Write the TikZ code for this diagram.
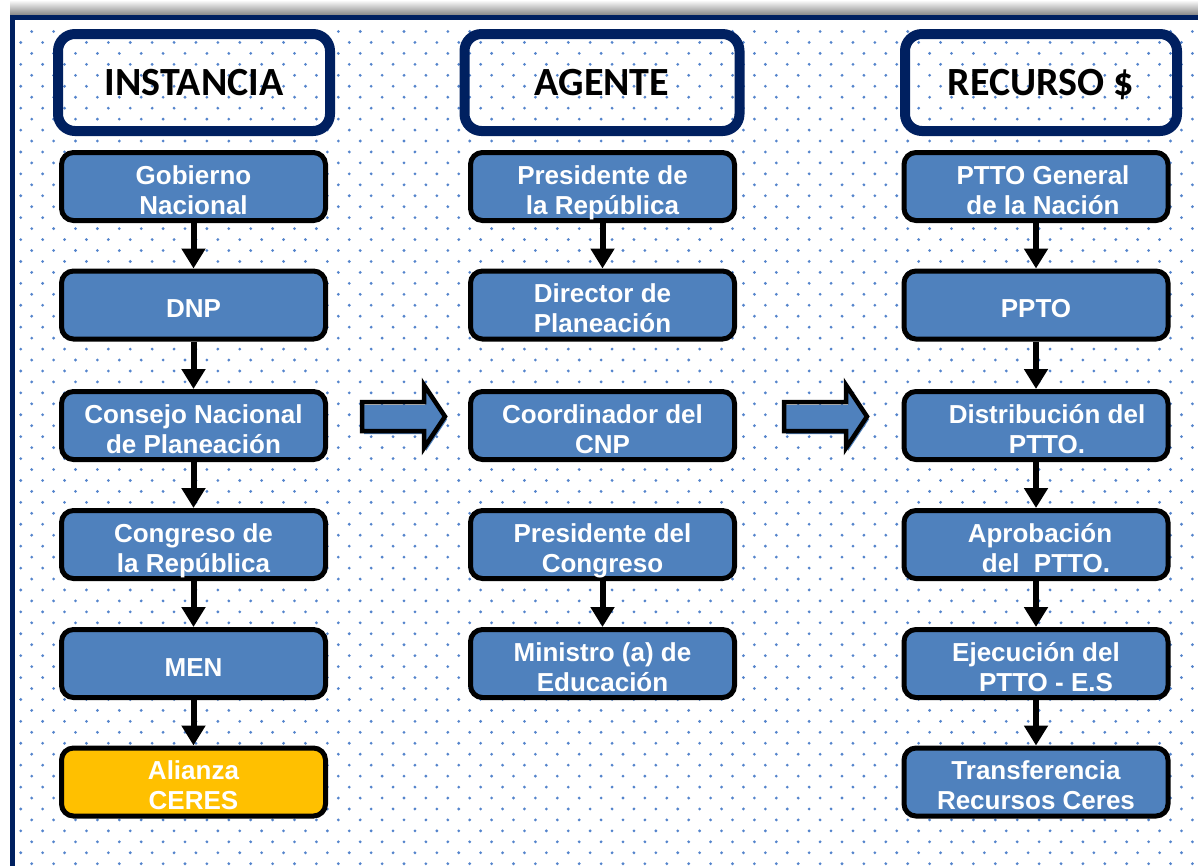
\documentclass[tikz,border=0pt]{standalone}
\usepackage{fontspec}
\setmainfont{Liberation Sans}
\newfontfamily\hdrfont{Carlito}
\usetikzlibrary{arrows.meta}
\definecolor{navy}{RGB}{0,32,96}
\definecolor{boxblue}{RGB}{79,129,189}
\definecolor{dotblue}{RGB}{84,132,204}
\definecolor{gold}{RGB}{255,192,0}
\newcommand{\tst}{\rule{0pt}{25.5pt}}
\tikzset{
  box/.style={draw=black, line width=5pt, fill=boxblue, rounded corners=12pt,
    minimum width=264pt, minimum height=68pt, text=white, inner sep=0pt,
    font=\bfseries\fontsize{26}{30}\selectfont, align=center},
  goldbox/.style={box, fill=gold},
  hdr/.style={draw=navy, line width=10pt, rounded corners=17pt,
    minimum width=272pt, minimum height=97pt, inner sep=0pt, text=black,
    text height=25.5pt, text depth=0pt,
    font=\hdrfont\bfseries\fontsize{40}{46}\selectfont},
  conn/.style={draw=black, line width=6pt, -{Triangle[width=23pt,length=20pt]}},
  barrowfill/.style={fill=boxblue},
  barrowline/.style={draw=black, line width=4.5pt, line join=miter}
}
\begin{document}
\begin{tikzpicture}[x=1pt,y=-1pt]
\useasboundingbox (0,0) rectangle (1198,865);
\begin{scope}
\clip (0,0) rectangle (1198,865);
% shadow above frame
\shade[top color=white, bottom color=black!50] (10,0) rectangle (1210,16);
% frame background
\fill[white] (12.5,17.5) rectangle (1215,880);
% dots
\begin{scope}
\clip (14,19) rectangle (1215,880);
\foreach \r in {0,...,76}{
  \pgfmathsetmacro{\yy}{31.5+10.95*\r}
  \pgfmathsetmacro{\xs}{31.7-10.95*mod(\r,2)}
  \foreach \c in {0,...,54}{
    \fill[dotblue] (\xs+21.9*\c,\yy) circle (1.55pt);
  }
}
\end{scope}
% frame border
\draw[navy, line width=4.5pt] (12.5,880) -- (12.5,17.5) -- (1215,17.5);
\end{scope}

% headers
\node[hdr] (h1) at (194,82.5) {INSTANCIA};
\node[hdr, minimum width=275pt] (h2) at (602,82.5) {AGENTE};
\node[hdr] (h3) at (1041,82.5) {RECURSO \$};

% column 1
\node[box] (a1) at (193.5,186.5) {\tst Gobierno\\Nacional};
\node[box] (a2) at (193.5,305) {\tst DNP};
\node[box] (a3) at (193.5,425.5) {\tst Consejo Nacional\\de Planeación};
\node[box] (a4) at (193.5,544.5) {\tst Congreso de\\\smash{la República}};
\node[box] (a5) at (193.5,663.5) {\tst MEN};
\node[goldbox] (a6) at (193.5,782) {\tst Alianza\\CERES};

% column 2
\node[box] (b1) at (602.5,186.5) {\tst Presidente de\\\smash{la República}};
\node[box] (b2) at (602.5,305) {\tst Director de\\Planeación};
\node[box] (b3) at (602.5,425.5) {\tst Coordinador del\\CNP};
\node[box] (b4) at (602.5,544.5) {\tst Presidente del\\\smash{Congreso}};
\node[box] (b5) at (602.5,663.5) {\tst Ministro (a) de\\Educación};

% column 3
\node[box] (c1) at (1036,186.5) {\tst\hspace*{14pt}PTTO General\\\hspace*{14pt}de la Nación};
\node[box] (c2) at (1036,305) {\tst PPTO};
\node[box] (c3) at (1036,425.5) {\tst\hspace*{22pt}Distribución del\\\hspace*{22pt}PTTO.};
\node[box] (c4) at (1036,544.5) {\tst\hspace*{8pt}Aprobación\\\hspace*{20pt}del\ \ PTTO.};
\node[box] (c5) at (1036,663.5) {\tst Ejecución del\\\hspace*{20pt}PTTO - E.S};
\node[box] (c6) at (1036,782) {\tst Transferencia\\Recursos Ceres};

% connectors
\foreach \u/\v in {a1/a2,a2/a3,a3/a4,a4/a5,a5/a6,b1/b2,b4/b5,c1/c2,c2/c3,c3/c4,c4/c5,c5/c6}{
  \draw[conn] (\u.south) -- (\v.north);
}

% block arrows
\foreach \dx in {0,422}{
  \fill[barrowfill, shift={(\dx+2,3)}] (362,402) -- (424,402) -- (424,385) -- (445,416.5) -- (424,448) -- (424,431) -- (362,431) -- cycle;
  \draw[barrowline, shift={(\dx,0)}] (362,402) -- (424,402) -- (424,385) -- (445,416.5) -- (424,448) -- (424,431) -- (362,431) -- cycle;
}
\end{tikzpicture}
\end{document}
